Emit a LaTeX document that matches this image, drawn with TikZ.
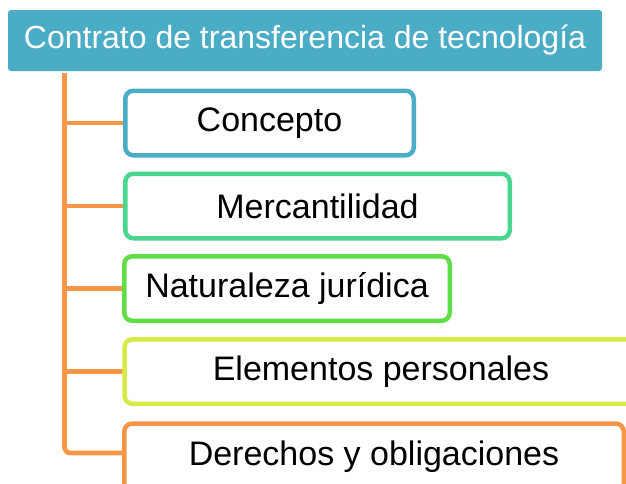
\documentclass[tikz,border=0pt]{standalone}
\usepackage{fontspec}
\setmainfont{Liberation Sans}
\definecolor{hdrblue}{HTML}{4BACC6}
\definecolor{mint}{HTML}{4AD68E}
\definecolor{leaf}{HTML}{5FDF45}
\definecolor{lime}{HTML}{D6EA48}
\definecolor{orng}{HTML}{F79646}
\begin{document}
\begin{tikzpicture}[x=1pt,y=-1pt,
  header/.style={fill=hdrblue, rounded corners=3pt, minimum width=594pt, minimum height=61pt,
    inner sep=0pt, text=white, font=\fontsize{32}{38}\selectfont},
  itembox/.style={draw=#1, fill=white, line width=4.5pt, rounded corners=8pt,
    minimum height=64.5pt, inner sep=0pt, text=black, font=\fontsize{34}{40}\selectfont},
  conn/.style={draw=orng, line width=4.7pt, rounded corners=6pt}]
\useasboundingbox (0,0) rectangle (626,483);
\clip (0,0) rectangle (626,483);
\node[header] (hdr) at (305,40.5) {Contrato de transferencia de tecnología};
\coordinate (top) at (64.5,73);
% connectors
\draw[conn] (top) |- (374,453);
\draw[conn, rounded corners=0pt] (top |- 0,123) -- (140,123);
\draw[conn, rounded corners=0pt] (top |- 0,206) -- (140,206);
\draw[conn, rounded corners=0pt] (top |- 0,288.5) -- (140,288.5);
\draw[conn, rounded corners=0pt] (top |- 0,371.5) -- (140,371.5);
% boxes
\node[itembox=hdrblue, minimum width=288.5pt] (b1) at (269.5,123) {Concepto};
\node[itembox=mint, minimum width=384.5pt] (b2) at (317.5,206) {Mercantilidad};
\node[itembox=leaf, minimum width=325.5pt] (b3) at (287,288.5) {Naturaleza jurídica};
\node[itembox=lime, minimum width=513pt] (b4) at (381,371.5) {Elementos personales};
\node[itembox=orng, minimum width=499.5pt, minimum height=74pt, anchor=north] (b5) at (374,421.25) {\raisebox{14pt}{Derechos y obligaciones}};
\end{tikzpicture}
\end{document}
